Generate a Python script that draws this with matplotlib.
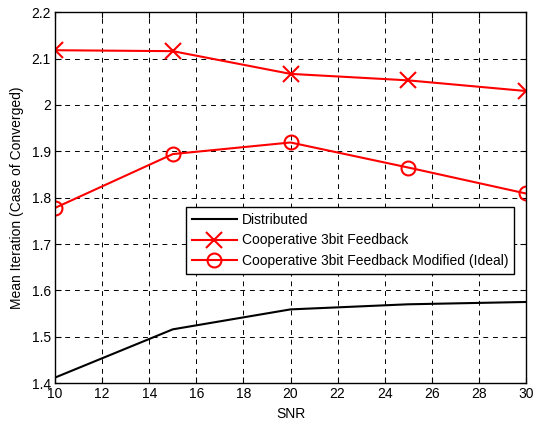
import numpy as np
import matplotlib
matplotlib.use('Agg')
import matplotlib.pyplot as plt

plt.rcParams['font.family'] = ['Liberation Sans', 'DejaVu Sans']

# Datos
snr = [10, 15, 20, 25, 30]
distributed = [1.412, 1.516, 1.559, 1.570, 1.575]
coop_3bit = [2.118, 2.116, 2.067, 2.053, 2.030]
coop_modified = [1.778, 1.894, 1.919, 1.865, 1.809]

xticks = np.arange(10, 31, 2)
yticks = np.arange(1.4, 2.21, 0.1)

fig = plt.figure(figsize=(5.35, 4.21), dpi=100)
ax = fig.add_axes([0.103, 0.090, 0.880, 0.881])

ax.plot(snr, distributed, color='black', lw=1.5, label='Distributed')
ax.plot(snr, coop_3bit, color='red', lw=1.5, marker='x', ms=12, mew=1.5,
        label='Cooperative 3bit Feedback')
ax.plot(snr, coop_modified, color='red', lw=1.5, marker='o', ms=10, mew=1.5,
        mfc='none', label='Cooperative 3bit Feedback Modified (Ideal)')

ax.set_xlim(10, 30)
ax.set_ylim(1.4, 2.2)
ax.set_xticks(xticks)
ax.set_yticks(yticks)
ax.set_yticklabels(['1.4', '1.5', '1.6', '1.7', '1.8', '1.9', '2', '2.1', '2.2'])
ax.tick_params(direction='in', top=True, right=True, labelsize=10, length=4, pad=3)
ax.grid(True, color='black', linestyle=(0, (5, 5)), lw=0.7)
for s in ax.spines.values():
    s.set_linewidth(1.0)

ax.set_xlabel('SNR', fontsize=10, labelpad=4)
ax.set_ylabel('Mean Iteration (Case of Converged)', fontsize=10, labelpad=5)

leg = ax.legend(loc='upper left', bbox_to_anchor=(0.278, 0.475), fontsize=10,
                frameon=True, fancybox=False, edgecolor='black', framealpha=1,
                borderpad=0.45, labelspacing=0.45, handlelength=3.2,
                handletextpad=0.35, borderaxespad=0)
leg.get_frame().set_linewidth(1.0)

fig.savefig('out.png', dpi=100)
